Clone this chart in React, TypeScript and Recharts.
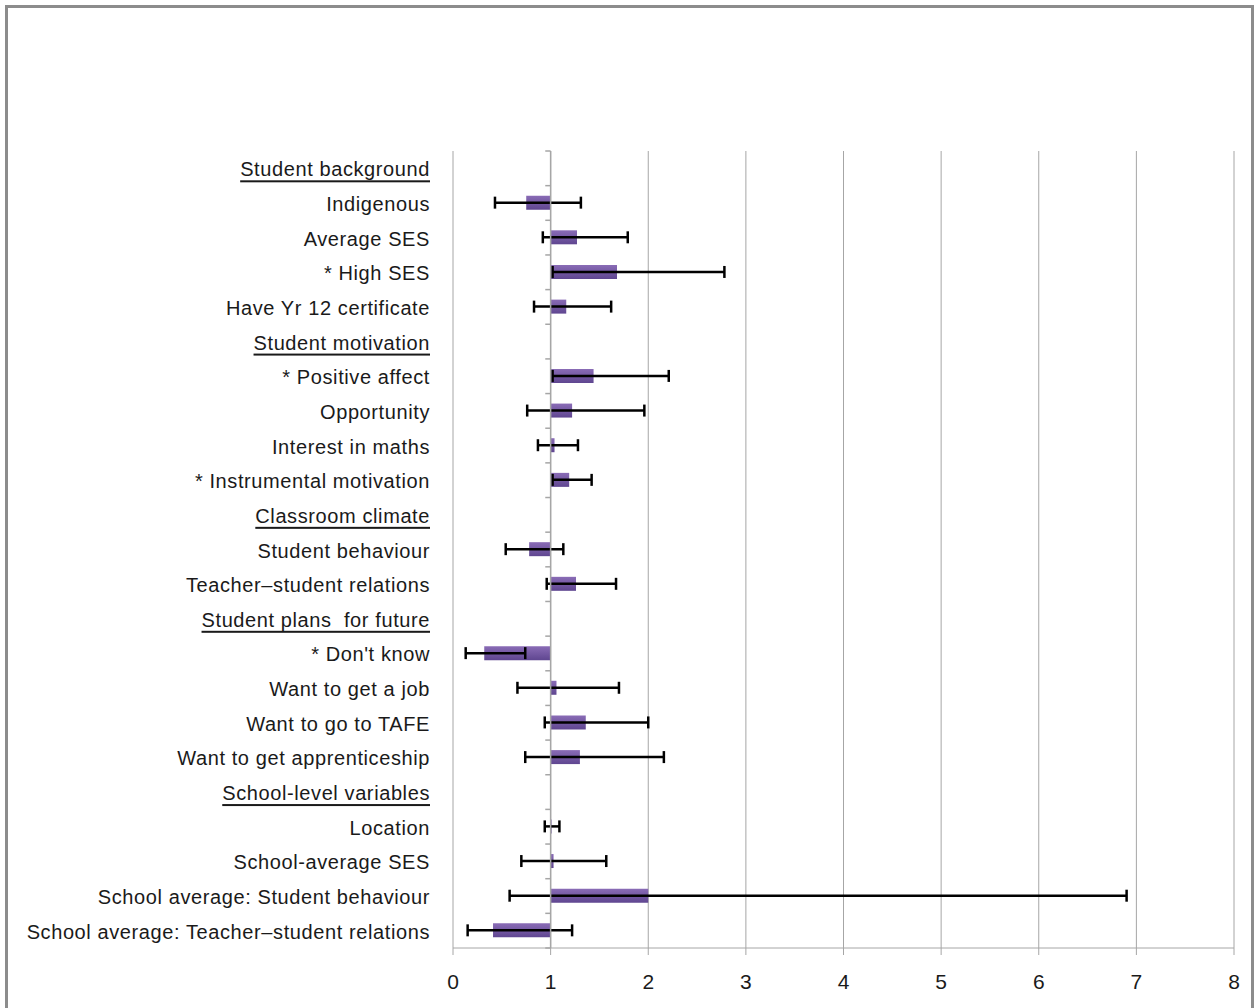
import React from "react"
import { BarChart, Bar, XAxis, YAxis, CartesianGrid, ReferenceLine } from "recharts"

// Row labels, top to bottom
const labels = [
  "Student background",
  "Indigenous",
  "Average SES",
  "* High SES",
  "Have Yr 12 certificate",
  "Student motivation",
  "* Positive affect",
  "Opportunity",
  "Interest in maths",
  "* Instrumental motivation",
  "Classroom climate",
  "Student behaviour",
  "Teacher\u2013student relations",
  "Student plans  for future",
  "* Don't know",
  "Want to get a job",
  "Want to go to TAFE",
  "Want to get apprenticeship",
  "School-level variables",
  "Location",
  "School-average SES",
  "School average: Student behaviour",
  "School average: Teacher\u2013student relations",
]

// Section headings (underlined, no values)
const headers = [
  "Student background",
  "Student motivation",
  "Classroom climate",
  "Student plans  for future",
  "School-level variables",
]

// Odds ratios and confidence interval bounds
const oddsRatio = [null, 0.75, 1.27, 1.68, 1.16, null, 1.44, 1.22, 1.04, 1.19, null, 0.78, 1.26, null, 0.32, 1.06, 1.36, 1.3, null, 1.01, 1.03, 2.0, 0.41]
const ciLow = [null, 0.43, 0.92, 1.02, 0.83, null, 1.02, 0.76, 0.87, 1.02, null, 0.54, 0.96, null, 0.13, 0.66, 0.94, 0.74, null, 0.94, 0.7, 0.58, 0.15]
const ciHigh = [null, 1.31, 1.79, 2.78, 1.62, null, 2.21, 1.96, 1.28, 1.42, null, 1.13, 1.67, null, 0.74, 1.7, 2.0, 2.16, null, 1.09, 1.57, 6.9, 1.22]

const xTicks = [0, 1, 2, 3, 4, 5, 6, 7, 8]
const baseline = 1

const data = labels.map((label, i) => {
  const or = oddsRatio[i]
  const lo = ciLow[i]
  const hi = ciHigh[i]
  return {
    label,
    bar: or == null ? null : [Math.min(baseline, or), Math.max(baseline, or)],
    ci: lo == null || hi == null ? null : [lo, hi],
  }
})

const font = "'Liberation Sans', Arial, sans-serif"
const textColor = "#1a1a1a"
const gridColor = "#a6a6a6"

function CategoryTick(props: any) {
  const { x, y, payload } = props
  const isHeader = headers.includes(payload.value)
  return (
    <text
      x={x}
      y={y + 1}
      textAnchor="end"
      dominantBaseline="central"
      fill={textColor}
      fontSize={20}
      fontFamily={font}
      letterSpacing={0.6}
      style={{ textDecoration: isHeader ? "underline" : "none", whiteSpace: "pre" }}
    >
      {payload.value}
    </text>
  )
}

function Whisker(props: any) {
  const { x, y, width, height, payload } = props
  if (!payload || payload.ci == null) return null
  const cy = y + height / 2
  const cap = 6
  return (
    <g stroke="#000" strokeWidth={2.5}>
      <line x1={x} y1={cy} x2={x + width} y2={cy} />
      <line x1={x} y1={cy - cap} x2={x} y2={cy + cap} />
      <line x1={x + width} y1={cy - cap} x2={x + width} y2={cy + cap} />
    </g>
  )
}

export default function App() {
  return (
    <div style={{ position: "absolute", left: 0, top: 0, width: 1258, height: 1008, background: "#fff", overflow: "hidden" }}>
      <div
        style={{
          position: "absolute",
          left: 5,
          top: 5,
          width: 1243,
          height: 1100,
          border: "3px solid #8c8c8c",
        }}
      />
      <div style={{ position: "absolute", left: 0, top: 0 }}>
        <BarChart
          width={1258}
          height={1008}
          data={data}
          layout="vertical"
          margin={{ top: 151, right: 24, bottom: 0, left: 10 }}
          barGap={-14}
        >
          <defs>
            <linearGradient id="purpleFill" x1="0" y1="0" x2="0" y2="1">
              <stop offset="0%" stopColor="#8a6cb6" />
              <stop offset="100%" stopColor="#5f4690" />
            </linearGradient>
          </defs>
          <CartesianGrid vertical={true} horizontal={false} stroke={gridColor} />
          <XAxis
            type="number"
            domain={[0, 8]}
            ticks={xTicks}
            interval={0}
            height={60}
            stroke={gridColor}
            tickSize={7}
            tickMargin={19}
            tick={{ fill: textColor, fontSize: 21, fontFamily: font }}
          />
          <YAxis
            type="category"
            dataKey="label"
            width={443}
            axisLine={false}
            tickLine={false}
            tickSize={0}
            tickMargin={23}
            interval={0}
            tick={<CategoryTick />}
          />
          <ReferenceLine x={baseline} stroke={gridColor} strokeWidth={1.5} />
          {labels.map((label) => (
            <ReferenceLine
              key={"t" + label}
              segment={[
                { x: baseline - 0.055, y: label },
                { x: baseline, y: label },
              ]}
              position="start"
              stroke={gridColor}
              strokeWidth={1.5}
            />
          ))}
          <ReferenceLine
            segment={[
              { x: baseline - 0.055, y: labels[labels.length - 1] },
              { x: baseline, y: labels[labels.length - 1] },
            ]}
            position="end"
            stroke={gridColor}
            strokeWidth={1.5}
          />
          <Bar dataKey="bar" barSize={14} fill="url(#purpleFill)" isAnimationActive={false} />
          <Bar dataKey="ci" barSize={14} shape={<Whisker />} isAnimationActive={false} />
        </BarChart>
      </div>
    </div>
  )
}
